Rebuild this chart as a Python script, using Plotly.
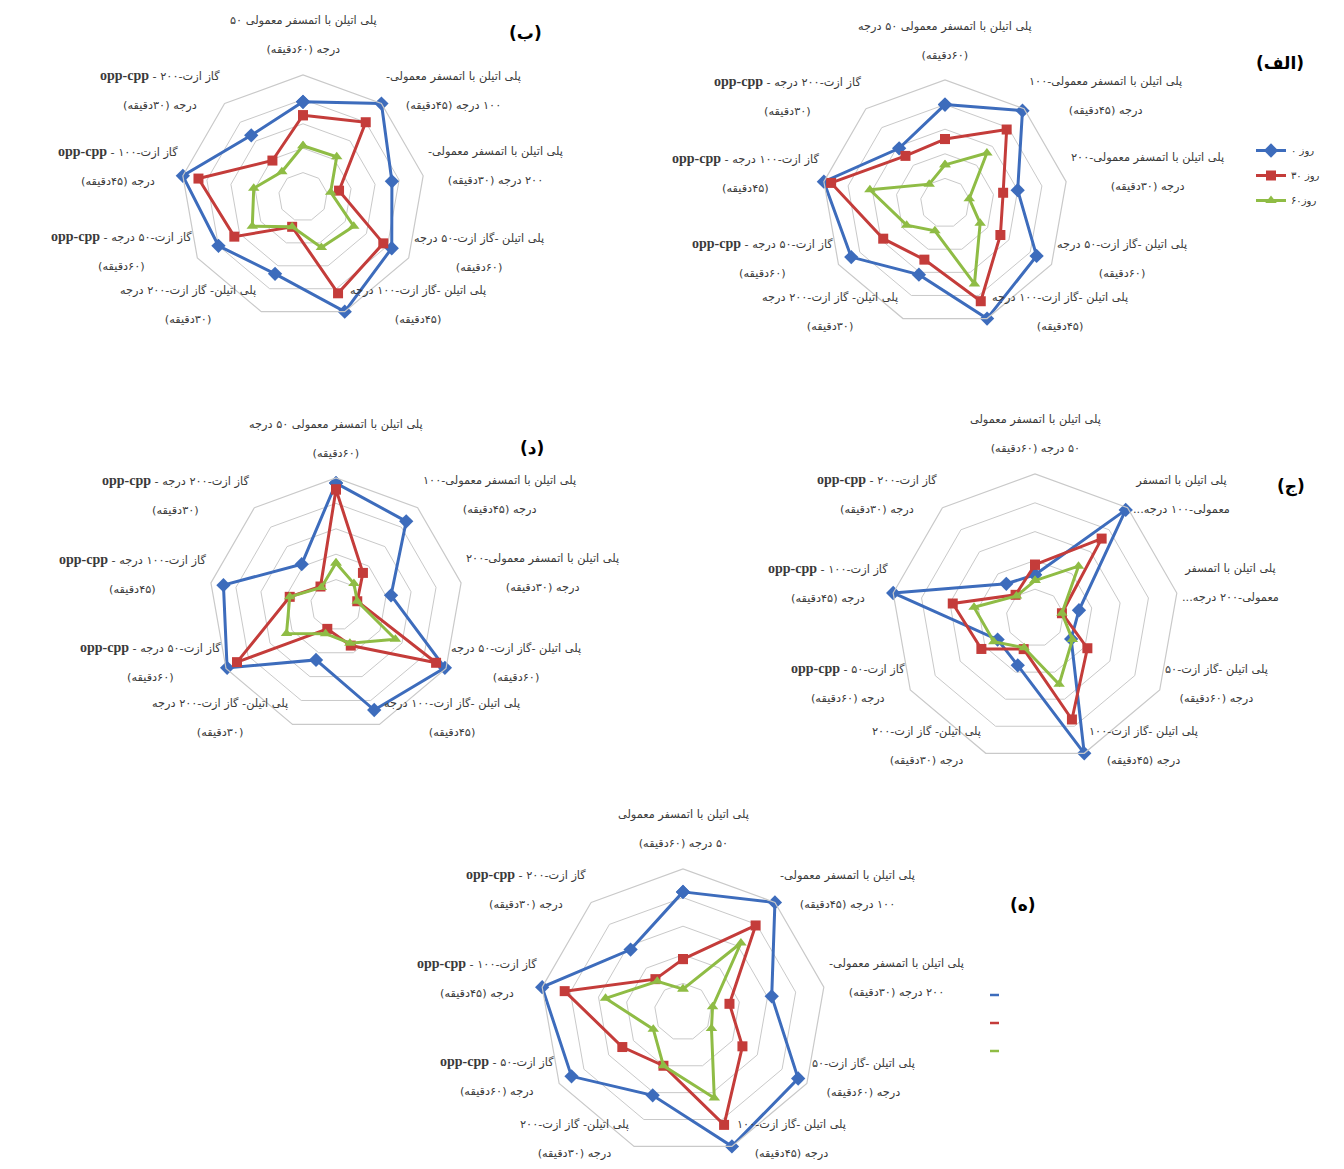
import math
import plotly.graph_objects as go

W, H = 1344, 1169

# ---------------- data ----------------
days = ["روز ۰", "روز ۳۰", "روز۶۰"]

OPP = "<b><span style='font-family:Liberation Serif;font-size:14px'>opp-cpp</span></b>"

labels_alef = [
    ("پلی اتیلن با اتمسفر معمولی ۵۰ درجه", "(۶۰دقیقه)"),
    ("پلی اتیلن با اتمسفر معمولی-۱۰۰", "درجه (۴۵دقیقه)"),
    ("پلی اتیلن با اتمسفر معمولی-۲۰۰", "درجه (۳۰دقیقه)"),
    ("پلی اتیلن -گاز ازت-۵۰ درجه", "(۶۰دقیقه)"),
    ("پلی اتیلن -گاز ازت-۱۰۰ درجه", "(۴۵دقیقه)"),
    ("پلی اتیلن- گاز ازت-۲۰۰ درجه", "(۳۰دقیقه)"),
    ("گاز ازت-۵۰ درجه - " + OPP, "(۶۰دقیقه)"),
    ("گاز ازت-۱۰۰ درجه - " + OPP, "(۴۵دقیقه)"),
    ("گاز ازت-۲۰۰ درجه - " + OPP, "(۳۰دقیقه)"),
]
labels_be = [
    ("پلی اتیلن با اتمسفر معمولی ۵۰", "درجه (۶۰دقیقه)"),
    ("پلی اتیلن با اتمسفر معمولی-", "۱۰۰ درجه (۴۵دقیقه)"),
    ("پلی اتیلن با اتمسفر معمولی-", "۲۰۰ درجه (۳۰دقیقه)"),
    ("پلی اتیلن -گاز ازت-۵۰ درجه", "(۶۰دقیقه)"),
    ("پلی اتیلن -گاز ازت-۱۰۰ درجه", "(۴۵دقیقه)"),
    ("پلی اتیلن- گاز ازت-۲۰۰ درجه", "(۳۰دقیقه)"),
    ("گاز ازت-۵۰ درجه - " + OPP, "(۶۰دقیقه)"),
    ("گاز ازت-۱۰۰ - " + OPP, "درجه (۴۵دقیقه)"),
    ("گاز ازت-۲۰۰ - " + OPP, "درجه (۳۰دقیقه)"),
]
labels_dal = [
    ("پلی اتیلن با اتمسفر معمولی ۵۰ درجه", "(۶۰دقیقه)"),
    ("پلی اتیلن با اتمسفر معمولی-۱۰۰", "درجه (۴۵دقیقه)"),
    ("پلی اتیلن با اتمسفر معمولی-۲۰۰", "درجه (۳۰دقیقه)"),
    ("پلی اتیلن -گاز ازت-۵۰ درجه", "(۶۰دقیقه)"),
    ("پلی اتیلن -گاز ازت-۱۰۰ درجه", "(۴۵دقیقه)"),
    ("پلی اتیلن- گاز ازت-۲۰۰ درجه", "(۳۰دقیقه)"),
    ("گاز ازت-۵۰ درجه - " + OPP, "(۶۰دقیقه)"),
    ("گاز ازت-۱۰۰ درجه - " + OPP, "(۴۵دقیقه)"),
    ("گاز ازت-۲۰۰ درجه - " + OPP, "(۳۰دقیقه)"),
]
labels_jim = [
    ("پلی اتیلن با اتمسفر معمولی", "۵۰ درجه (۶۰دقیقه)"),
    ("پلی اتیلن با اتمسفر", "معمولی-۱۰۰ درجه..."),
    ("پلی اتیلن با اتمسفر", "معمولی-۲۰۰ درجه..."),
    ("پلی اتیلن -گاز ازت-۵۰", "درجه (۶۰دقیقه)"),
    ("پلی اتیلن -گاز ازت-۱۰۰", "درجه (۴۵دقیقه)"),
    ("پلی اتیلن- گاز ازت-۲۰۰", "درجه (۳۰دقیقه)"),
    ("گاز ازت-۵۰ - " + OPP, "درجه (۶۰دقیقه)"),
    ("گاز ازت-۱۰۰ - " + OPP, "درجه (۴۵دقیقه)"),
    ("گاز ازت-۲۰۰ - " + OPP, "درجه (۳۰دقیقه)"),
]
labels_he = [
    ("پلی اتیلن با اتمسفر معمولی", "۵۰ درجه (۶۰دقیقه)"),
    ("پلی اتیلن با اتمسفر معمولی-", "۱۰۰ درجه (۴۵دقیقه)"),
    ("پلی اتیلن با اتمسفر معمولی-", "۲۰۰ درجه (۳۰دقیقه)"),
    ("پلی اتیلن -گاز ازت-۵۰", "درجه (۶۰دقیقه)"),
    ("پلی اتیلن -گاز ازت-۱۰۰", "درجه (۴۵دقیقه)"),
    ("پلی اتیلن- گاز ازت-۲۰۰", "درجه (۳۰دقیقه)"),
    ("گاز ازت-۵۰ - " + OPP, "درجه (۶۰دقیقه)"),
    ("گاز ازت-۱۰۰ - " + OPP, "درجه (۴۵دقیقه)"),
    ("گاز ازت-۲۰۰ - " + OPP, "درجه (۳۰دقیقه)"),
]

alef_day0 = [4.0, 4.9, 3.0, 4.3, 5.0, 3.1, 4.4, 5.0, 2.9]
alef_day30 = [2.6, 3.9, 2.4, 2.6, 4.25, 2.45, 2.9, 4.7, 2.5]
alef_day60 = [1.55, 2.65, 1.0, 1.65, 3.5, 1.2, 1.8, 3.1, 1.0]

be_day0 = [3.9, 5.0, 3.7, 4.2, 5.0, 3.35, 4.0, 5.0, 3.3]
be_day30 = [3.35, 4.0, 1.5, 3.8, 4.2, 1.3, 3.25, 4.35, 1.95]
be_day60 = [2.1, 2.15, 1.15, 2.4, 2.2, 1.3, 2.4, 2.05, 1.35]

dal_day0 = [4.8, 4.3, 2.2, 4.95, 4.4, 2.3, 4.95, 4.5, 2.1]
dal_day30 = [4.55, 1.65, 0.85, 4.55, 1.7, 1.0, 4.5, 1.85, 0.95]
dal_day60 = [1.65, 1.1, 0.85, 2.7, 1.6, 1.2, 2.25, 1.85, 0.9]

jim_day0 = [1.5, 4.9, 1.55, 1.45, 5.0, 1.75, 1.5, 5.0, 1.55]
jim_day30 = [1.85, 3.6, 0.95, 2.1, 3.75, 1.15, 2.15, 2.9, 1.05]
jim_day60 = [1.3, 2.35, 0.95, 1.5, 2.45, 1.1, 1.65, 2.15, 1.0]

he_day0 = [4.2, 5.0, 3.15, 4.65, 5.0, 3.1, 4.5, 5.0, 2.85]
he_day30 = [1.85, 3.95, 1.65, 2.4, 4.2, 2.0, 2.45, 4.2, 1.5]
he_day60 = [0.8, 3.15, 1.05, 1.15, 3.2, 2.0, 1.2, 2.75, 1.4]

panel_titles = ["(الف)", "(ب)", "(ج)", "(د)", "(ه)"]

# ---------------- styling ----------------
COLORS = ["#3d6cbc", "#c43c3a", "#8fbc45"]
SYMBOLS = ["diamond", "square", "triangle-up"]
MSIZES = [11, 10, 10]
GRID = "#c9c9c9"
FONT_FA = "DejaVu Sans"
LABEL_SIZE = 11.3


def rtl(s):
    return "\u202b" + s + "\u202c"


# subplot geometry (center x, center y, radius) in px
panels = [
    dict(name="polar", labels=labels_alef, data=[alef_day0, alef_day30, alef_day60], geo=(937, 195, 123)),
    dict(name="polar2", labels=labels_be, data=[be_day0, be_day30, be_day60], geo=(295, 189, 122)),
    dict(name="polar3", labels=labels_jim, data=[jim_day0, jim_day30, jim_day60], geo=(1027, 610, 144)),
    dict(name="polar4", labels=labels_dal, data=[dal_day0, dal_day30, dal_day60], geo=(328, 597, 127)),
    dict(name="polar5", labels=labels_he, data=[he_day0, he_day30, he_day60], geo=(675, 1004, 143)),
]

# vertical offsets of label blocks relative to the ring vertex (per axis index)
LABEL_DY = [-16, -12, -9, -6, -7, -7, -7, -9, -13]
LABEL_PAD = 3

fig = go.Figure()
layout_polars = {}
for pi, p in enumerate(panels):
    cats = ["c%d" % k for k in range(len(p["labels"]))]
    for si in range(3):
        vals = p["data"][si]
        fig.add_trace(go.Scatterpolar(
            r=vals + [vals[0]],
            theta=cats + [cats[0]],
            mode="lines+markers",
            name=days[si],
            subplot=p["name"],
            line=dict(color=COLORS[si], width=3),
            marker=dict(symbol=SYMBOLS[si], size=MSIZES[si], color=COLORS[si]),
            legendgroup="g%d" % si,
            showlegend=(pi == 0),
            cliponaxis=False,
        ))
    cx, cy, R = p["geo"]
    layout_polars[p["name"]] = dict(
        domain=dict(x=[(cx - R) / W, (cx + R) / W], y=[1 - (cy + R) / H, 1 - (cy - R) / H]),
        gridshape="linear",
        bgcolor="rgba(0,0,0,0)",
        radialaxis=dict(range=[0, 5], tickvals=[1, 2, 3, 4, 5], showticklabels=False,
                        ticks="", showline=False, gridcolor=GRID, gridwidth=1.2),
        angularaxis=dict(direction="clockwise", rotation=90, showgrid=False,
                         linecolor=GRID, linewidth=1.2, ticks="", showticklabels=False,
                         categoryorder="array", categoryarray=cats),
    )
    # axis category labels, placed outside each vertex like the spreadsheet radar chart
    n = len(p["labels"])
    for k, (l1, l2) in enumerate(p["labels"]):
        ang = math.radians(360.0 * k / n)
        vx = cx + R * math.sin(ang)
        vy = cy - R * math.cos(ang)
        text = rtl(l1) + "<br> <br>" + rtl(l2)
        if k == 0:
            ax, ay, xa, ya = vx, vy + LABEL_DY[0], "center", "bottom"
        elif k <= n // 2:
            ax, ay, xa, ya = vx + LABEL_PAD, vy + LABEL_DY[k], "left", "middle"
        else:
            ax, ay, xa, ya = vx - LABEL_PAD, vy + LABEL_DY[k], "right", "middle"
        fig.add_annotation(x=ax / W, y=1 - ay / H, xref="paper", yref="paper", text=text,
                           showarrow=False, align="center", xanchor=xa, yanchor=ya,
                           font=dict(family=FONT_FA, size=LABEL_SIZE, color="#3a3a3a"))

fig.update_layout(**layout_polars)

# panel labels
panel_pos = [(1272, 55), (517, 25), (1283, 478), (524, 440), (1015, 897)]
for t, (x, y) in zip(panel_titles, panel_pos):
    fig.add_annotation(x=x / W, y=1 - y / H, xref="paper", yref="paper", text="<b>" + t + "</b>",
                       showarrow=False, font=dict(family=FONT_FA, size=17, color="black"),
                       xanchor="center", yanchor="middle")

# clipped legend remnants of panel (ه)
for si, yy in enumerate([987, 1015, 1043]):
    fig.add_shape(type="line", xref="paper", yref="paper",
                  x0=982 / W, x1=991 / W, y0=1 - yy / H, y1=1 - yy / H,
                  line=dict(color=COLORS[si], width=2.5))

fig.update_layout(
    width=W, height=H,
    margin=dict(l=0, r=0, t=0, b=0),
    paper_bgcolor="white",
    plot_bgcolor="white",
    showlegend=True,
    legend=dict(x=1243 / W, y=1 - 128 / H, xanchor="left", yanchor="top",
                font=dict(family=FONT_FA, size=10, color="#333333"),
                bgcolor="rgba(0,0,0,0)", tracegroupgap=6, itemwidth=30),
)

fig.write_html("out.html")
